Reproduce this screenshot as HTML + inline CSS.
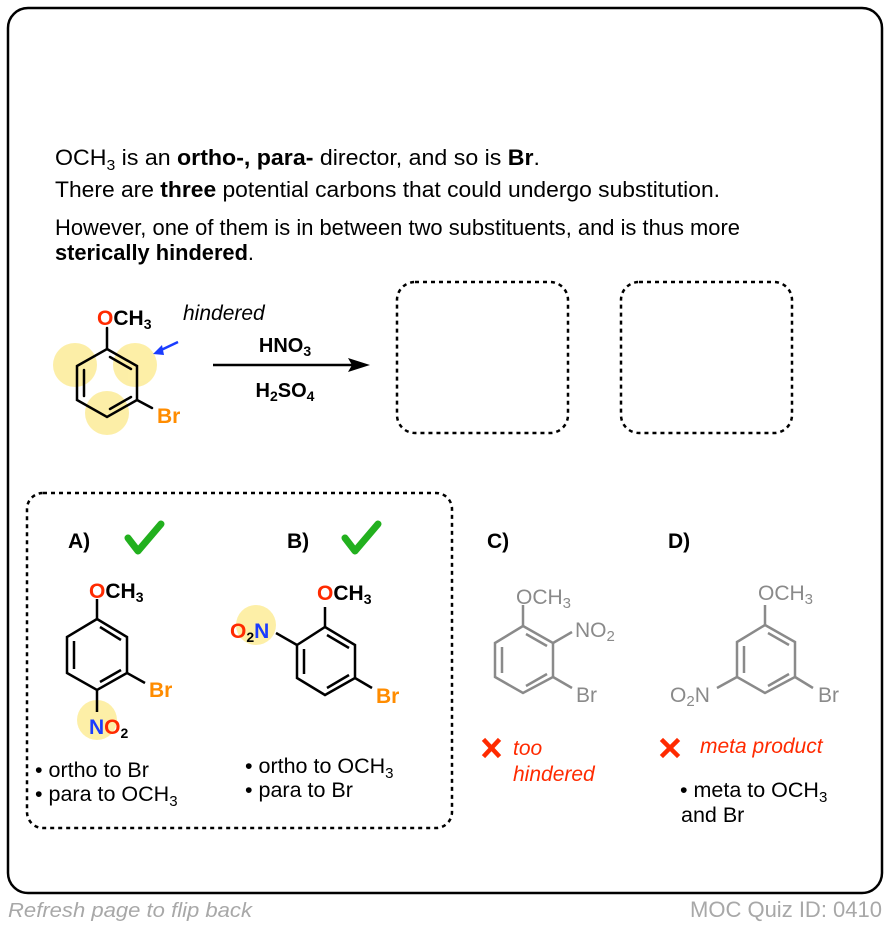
<!DOCTYPE html>
<html><head><meta charset="utf-8"><style>
html,body{margin:0;padding:0;background:#fff;}
svg{display:block;font-family:"Liberation Sans",Arial,sans-serif;}
</style></head><body>
<svg width="890" height="928" viewBox="0 0 890 928" xmlns="http://www.w3.org/2000/svg">
<rect x="8" y="8" width="874" height="885" rx="20" fill="#fff" stroke="#000" stroke-width="2.5"/>
<g font-size="22" fill="#000">
<text x="55" y="165" textLength="485" lengthAdjust="spacingAndGlyphs">OCH<tspan font-size="15" dy="5">3</tspan><tspan dy="-5"> is an </tspan><tspan font-weight="bold">ortho-, para-</tspan> director, and so is <tspan font-weight="bold">Br</tspan>.</text>
<text x="55" y="197" textLength="665" lengthAdjust="spacingAndGlyphs">There are <tspan font-weight="bold">three</tspan> potential carbons that could undergo substitution.</text>
<text x="55" y="235" textLength="685" lengthAdjust="spacingAndGlyphs">However, one of them is in between two substituents, and is thus more</text>
<text x="55" y="260" font-weight="bold" textLength="199" lengthAdjust="spacingAndGlyphs">sterically hindered<tspan font-weight="normal">.</tspan></text>
</g>
<g fill="#fce98a" opacity="0.75">
<circle cx="75" cy="365" r="22"/><circle cx="135" cy="365" r="22"/><circle cx="107" cy="413" r="22"/>
</g>
<g stroke="#000" stroke-width="2.5" fill="none" stroke-linecap="round">
<polygon points="107,349 137,366 137,400 107,417 77,400 77,366"/>
<line x1="107" y1="349" x2="107" y2="328"/>
<line x1="137" y1="400" x2="152" y2="408"/>
<line x1="110" y1="357" x2="131" y2="369"/>
<line x1="84" y1="370" x2="84" y2="396"/>
<line x1="110" y1="409" x2="131" y2="397"/>
</g>
<text x="97" y="325" font-size="21" font-weight="bold"><tspan fill="#ff2a00">O</tspan>CH<tspan font-size="14" dy="4">3</tspan></text>
<text x="157" y="423" font-size="21" font-weight="bold" fill="#ff8c00">Br</text>
<line x1="178" y1="342" x2="159" y2="351" stroke="#1a3cff" stroke-width="2.5"/>
<polygon points="153,354 162,345 164,355" fill="#1a3cff"/>
<text x="183" y="320" font-size="21" font-style="italic">hindered</text>
<line x1="213" y1="365" x2="355" y2="365" stroke="#000" stroke-width="2.5"/>
<polygon points="370,365 348,358 352,365 348,372" fill="#000"/>
<text x="285" y="352" font-size="20" font-weight="bold" text-anchor="middle">HNO<tspan font-size="14" dy="4">3</tspan></text>
<text x="285" y="397" font-size="20" font-weight="bold" text-anchor="middle">H<tspan font-size="14" dy="4">2</tspan><tspan dy="-4">SO</tspan><tspan font-size="14" dy="4">4</tspan></text>
<rect x="397" y="282" width="171" height="151" rx="18" fill="none" stroke="#000" stroke-width="2.5" stroke-dasharray="4,4"/>
<rect x="621" y="282" width="171" height="151" rx="18" fill="none" stroke="#000" stroke-width="2.5" stroke-dasharray="4,4"/>
<rect x="27" y="493" width="425" height="335" rx="16" fill="none" stroke="#000" stroke-width="2.5" stroke-dasharray="4,4"/>
<text x="68" y="548" font-size="21" font-weight="bold">A)</text>
<path d="M128,538 L138,551 L161,524" stroke="#22b01e" stroke-width="7" fill="none" stroke-linecap="round" stroke-linejoin="round"/>
<text x="287" y="548" font-size="21" font-weight="bold">B)</text>
<path d="M345,538 L355,551 L378,524" stroke="#22b01e" stroke-width="7" fill="none" stroke-linecap="round" stroke-linejoin="round"/>
<circle cx="97" cy="720" r="20" fill="#fce98a" opacity="0.75"/>
<g stroke="#000" stroke-width="2.5" fill="none">
<polygon points="97,619 127,637 127,673 97,690 67,673 67,637"/>
<line x1="97" y1="619" x2="97" y2="599"/>
<line x1="127" y1="673" x2="145" y2="683"/>
<line x1="97" y1="690" x2="97" y2="712"/>
<line x1="100" y1="627" x2="121" y2="640"/>
<line x1="74" y1="641" x2="74" y2="669"/>
<line x1="100" y1="682" x2="121" y2="670"/>
</g>
<text x="89" y="598" font-size="21" font-weight="bold"><tspan fill="#ff2a00">O</tspan>CH<tspan font-size="14" dy="4">3</tspan></text>
<text x="149" y="697" font-size="21" font-weight="bold" fill="#ff8c00">Br</text>
<text x="89" y="734" font-size="21" font-weight="bold"><tspan fill="#1a3cff">N</tspan><tspan fill="#ff2a00">O</tspan><tspan font-size="14" dy="4">2</tspan></text>
<g font-size="21.5">
<text x="35" y="777">• ortho to Br</text>
<text x="35" y="801">• para to OCH<tspan font-size="15" dy="5">3</tspan></text>
<text x="245" y="773">• ortho to OCH<tspan font-size="15" dy="5">3</tspan></text>
<text x="245" y="797">• para to Br</text>
</g>
<circle cx="256" cy="625" r="20" fill="#fce98a" opacity="0.75"/>
<g stroke="#000" stroke-width="2.5" fill="none">
<polygon points="297,645 325,627 355,645 355,678 325,695 297,678"/>
<line x1="325" y1="627" x2="325" y2="607"/>
<line x1="297" y1="645" x2="276" y2="633"/>
<line x1="355" y1="678" x2="372" y2="688"/>
<line x1="327" y1="635" x2="349" y2="648"/>
<line x1="304" y1="649" x2="304" y2="674"/>
<line x1="327" y1="688" x2="349" y2="675"/>
</g>
<text x="317" y="600" font-size="21" font-weight="bold"><tspan fill="#ff2a00">O</tspan>CH<tspan font-size="14" dy="4">3</tspan></text>
<text x="230" y="638" font-size="21" font-weight="bold"><tspan fill="#ff2a00">O</tspan><tspan font-size="14" dy="4">2</tspan><tspan fill="#1a3cff" dy="-4">N</tspan></text>
<text x="376" y="703" font-size="21" font-weight="bold" fill="#ff8c00">Br</text>
<text x="487" y="548" font-size="21" font-weight="bold">C)</text>
<text x="668" y="548" font-size="21" font-weight="bold">D)</text>
<g stroke="#8a8a8a" stroke-width="2.5" fill="none">
<polygon points="523,626 553,643 553,677 523,693 495,677 495,643"/>
<line x1="523" y1="626" x2="523" y2="605"/>
<line x1="553" y1="643" x2="572" y2="632"/>
<line x1="553" y1="677" x2="572" y2="688"/>
<line x1="526" y1="634" x2="547" y2="646"/>
<line x1="502" y1="647" x2="502" y2="673"/>
<line x1="526" y1="686" x2="547" y2="674"/>
<polygon points="765,625 795,642 795,677 765,693 737,677 737,642"/>
<line x1="765" y1="625" x2="765" y2="605"/>
<line x1="795" y1="677" x2="813" y2="688"/>
<line x1="737" y1="677" x2="717" y2="688"/>
<line x1="768" y1="633" x2="789" y2="645"/>
<line x1="744" y1="646" x2="744" y2="673"/>
<line x1="768" y1="686" x2="789" y2="674"/>
</g>
<g fill="#8a8a8a" font-size="21">
<text x="516" y="604">OCH<tspan font-size="15" dy="4">3</tspan></text>
<text x="575" y="637">NO<tspan font-size="15" dy="4">2</tspan></text>
<text x="576" y="702">Br</text>
<text x="758" y="600">OCH<tspan font-size="15" dy="4">3</tspan></text>
<text x="818" y="702">Br</text>
<text x="670" y="702">O<tspan font-size="15" dy="4">2</tspan><tspan dy="-4">N</tspan></text>
</g>
<g stroke="#ff2a00" stroke-width="4.5" stroke-linecap="square">
<line x1="485" y1="741" x2="498" y2="755"/><line x1="498" y1="741" x2="485" y2="755"/>
<line x1="663" y1="741" x2="677" y2="755"/><line x1="677" y1="741" x2="663" y2="755"/>
</g>
<g fill="#ff2a00" font-size="21" font-style="italic">
<text x="513" y="755">too</text>
<text x="513" y="781">hindered</text>
<text x="700" y="753">meta product</text>
</g>
<text x="680" y="797" font-size="21.5">• meta to OCH<tspan font-size="15" dy="5">3</tspan></text>
<text x="681" y="822" font-size="21.5">and Br</text>
<text x="8" y="917" font-size="20" font-style="italic" fill="#a8a8a8" textLength="244" lengthAdjust="spacingAndGlyphs">Refresh page to flip back</text>
<text x="690" y="917" font-size="22" fill="#a8a8a8" textLength="192" lengthAdjust="spacingAndGlyphs">MOC Quiz ID: 0410</text>
</svg>
</body></html>
